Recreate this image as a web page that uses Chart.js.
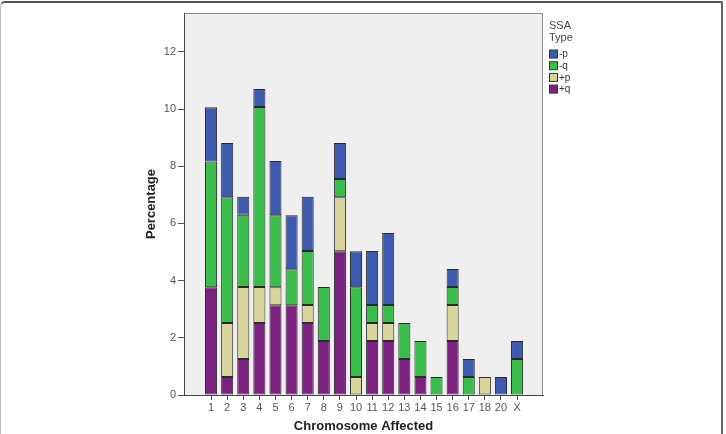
<!DOCTYPE html>
<html>
<head>
<meta charset="utf-8">
<script src="https://cdn.jsdelivr.net/npm/chart.js@4.4.1/dist/chart.umd.min.js"></script>
<style>
  body { margin: 0; background: #fff; }
  #wrap { position: relative; width: 726px; height: 434px; overflow: hidden; }
  #frame { position: absolute; left: 0; top: 1px; width: 720px; height: 460px;
           border-top: 2px solid #555; border-right: 2px solid #666; border-left: 1px solid #bbb;
           border-top-left-radius: 5px; pointer-events: none; }
</style>
</head>
<body>
<div id="wrap">
  <canvas id="ssaChart" width="726" height="434"></canvas>
  <div id="frame"></div>
</div>
<script>
// chromosome categories and percentages per SSA type
const chromosomes = ["1","2","3","4","5","6","7","8","9","10","11","12","13","14","15","16","17","18","20","X"];
const plusQ  = [3.77, 0.63, 1.26, 2.52, 3.14, 3.14, 2.52, 1.89, 5.03, 0, 1.89, 1.89, 1.26, 0.63, 0, 1.89, 0, 0, 0, 0];
const plusP  = [0, 1.89, 2.52, 1.26, 0.63, 0, 0.63, 0, 1.89, 0.63, 0.63, 0.63, 0, 0, 0, 1.26, 0, 0.63, 0, 0];
const minusQ = [4.40, 4.40, 2.52, 6.29, 2.52, 1.26, 1.89, 1.89, 0.63, 3.14, 0.63, 0.63, 1.26, 1.26, 0.63, 0.63, 0.63, 0, 0, 1.26];
const minusP = [1.89, 1.89, 0.63, 0.63, 1.89, 1.89, 1.89, 0, 1.26, 1.26, 1.89, 2.52, 0, 0, 0, 0.63, 0.63, 0, 0.63, 0.63];
const yTicks = [0, 2, 4, 6, 8, 10, 12];

const FONT = "'Liberation Sans', Arial, sans-serif";

function toPoints(arr) {
    return arr.map((v, i) => ({ x: i, y: v === 0 ? null : v }));
}

const series = [
    { label: "+q", data: plusQ,  color: "#7b2281" },
    { label: "+p", data: plusP,  color: "#d8d49c" },
    { label: "-q", data: minusQ, color: "#3abd4b" },
    { label: "-p", data: minusP, color: "#3e5aae" }
];

// gray plot background with top/right frame
const plotBg = {
    id: "plotBg",
    beforeDraw(chart) {
        const { ctx, chartArea: a } = chart;
        ctx.save();
        ctx.fillStyle = "#efefef";
        ctx.fillRect(a.left, a.top, a.right - a.left, a.bottom - a.top);
        ctx.strokeStyle = "#8a8a8a";
        ctx.lineWidth = 1;
        ctx.beginPath();
        ctx.moveTo(a.left, a.top + 0.5);
        ctx.lineTo(a.right - 0.5, a.top + 0.5);
        ctx.lineTo(a.right - 0.5, a.bottom);
        ctx.stroke();
        ctx.restore();
    }
};

// legend to the right of the plot, top item = last stacked series
const sideLegend = {
    id: "sideLegend",
    afterDraw(chart) {
        const { ctx, chartArea: a } = chart;
        const x = a.right + 6;
        ctx.save();
        ctx.font = "11px " + FONT;
        ctx.fillStyle = "#444";
        ctx.textBaseline = "middle";
        ctx.fillText("SSA", x, 26);
        ctx.fillText("Type", x, 38);
        const items = chart.data.datasets.slice().reverse();
        items.forEach((ds, i) => {
            const cy = 54 + i * 11.7;
            ctx.fillStyle = ds.backgroundColor;
            ctx.fillRect(x + 0.5, cy - 4, 8, 8);
            ctx.strokeStyle = "#333";
            ctx.lineWidth = 1;
            ctx.strokeRect(x + 0.5, cy - 4, 8, 8);
            ctx.fillStyle = "#333";
            ctx.font = "10px " + FONT;
            ctx.fillText(ds.label, x + 10, cy + 0.5);
        });
        ctx.restore();
    }
};

const ctx = document.getElementById("ssaChart").getContext("2d");
new Chart(ctx, {
    type: "bar",
    data: {
        datasets: series.map(s => ({
            label: s.label,
            data: toPoints(s.data),
            backgroundColor: s.color,
            borderColor: "#2a2a2a",
            borderWidth: 1,
            borderSkipped: false,
            barPercentage: 0.75,
            categoryPercentage: 1
        }))
    },
    options: {
        responsive: false,
        animation: false,
        layout: { padding: { left: 140, top: 13, right: 183, bottom: 0 } },
        plugins: { legend: { display: false }, tooltip: { enabled: false } },
        scales: {
            x: {
                type: "linear",
                stacked: true,
                offset: false,
                min: -1.68,
                max: 20.61,
                afterBuildTicks: s => { s.ticks = chromosomes.map((c, i) => ({ value: i })); },
                afterFit: s => { s.height = 39; },
                ticks: {
                    autoSkip: false,
                    maxRotation: 0,
                    padding: 1,
                    color: "#555",
                    font: { family: FONT, size: 11 },
                    callback: v => chromosomes[v]
                },
                grid: { drawOnChartArea: false, drawTicks: true, tickLength: 5, color: "#555", offset: false },
                border: { display: true, color: "#444", width: 1 },
                title: {
                    display: true,
                    text: "Chromosome Affected",
                    color: "#222",
                    font: { family: FONT, size: 13, weight: "bold" },
                    padding: { top: 0, bottom: 0 }
                }
            },
            y: {
                stacked: true,
                min: 0,
                max: 13.36,
                afterBuildTicks: s => { s.ticks = yTicks.map(v => ({ value: v })); },
                afterFit: s => { s.width = 44; },
                ticks: {
                    padding: 2,
                    color: "#555",
                    font: { family: FONT, size: 11 }
                },
                grid: { drawOnChartArea: false, drawTicks: true, tickLength: 6, color: "#555" },
                border: { display: true, color: "#444", width: 1 },
                title: {
                    display: true,
                    text: "Percentage",
                    color: "#222",
                    font: { family: FONT, size: 13, weight: "bold" },
                    padding: { top: 4, bottom: 0 }
                }
            }
        }
    },
    plugins: [plotBg, sideLegend]
});
</script>
</body>
</html>
